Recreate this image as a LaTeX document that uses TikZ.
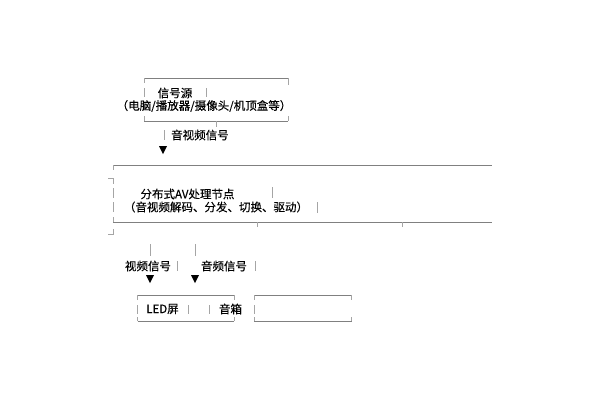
\documentclass[tikz,border=0pt]{standalone}
\usepackage{fontspec}
\setmainfont{Noto Sans CJK SC}[UprightFeatures={FakeBold=0.15}]
\definecolor{linecol}{RGB}{128,128,128}
\definecolor{tickcol}{RGB}{165,165,165}
\begin{document}
\begin{tikzpicture}[x=1pt,y=-1pt,
  edge/.style={draw=linecol,line width=0.9pt},
  tick/.style={draw=tickcol,line width=0.9pt},
  lbl/.style={inner sep=0pt,font=\fontsize{11.5pt}{13pt}\selectfont,text=black},
  tri/.style={fill=black}]
\useasboundingbox[fill=white] (0,0) rectangle (600,400);
% ---- top box: source
\draw[edge] (144,78) -- (288,78);
\draw[tick] (144,78) -- (144,83);
\draw[tick] (288,78) -- (288,85);
\draw[tick] (144,88) -- (144,97);
\draw[tick] (206.5,88) -- (206.5,97);
\draw[edge] (144,121) -- (288,121);
\draw[tick] (144,116) -- (144,121);
\draw[tick] (288,116) -- (288,121);
\draw[tick] (216,121) -- (216,127);
\node[lbl] (src1) at (175,93) {信号源};
\node[lbl] (src2) at (204,106) {（电脑/播放器/摄像头/机顶盒等）};
% arrow 1
\draw[tick] (164,130) -- (164,140);
\node[lbl,anchor=west] (sig1) at (171,135) {音视频信号};
\fill[tri] (159,146) -- (167,146) -- (163,154) -- cycle;
% ---- middle box: AV node
\draw[edge] (113,165) -- (492,165);
\draw[tick] (113,165) -- (113,170);
\draw[tick] (108,178) -- (113,178) -- (113,184);
\draw[tick] (113,188) -- (113,198);
\draw[tick] (113,202) -- (113,212);
\draw[tick] (272.5,187) -- (272.5,198);
\draw[tick] (317.5,202) -- (317.5,213);
\draw[edge] (113,222) -- (492,222);
\draw[tick] (113,217) -- (113,222);
\draw[tick] (113,229) -- (113,234) -- (108,234);
\draw[tick] (257.5,222) -- (257.5,227);
\draw[tick] (402.5,222) -- (402.5,227);
\node[lbl] (av1) at (187.5,194) {分布式AV处理节点};
\node[lbl] (av2) at (216,207) {（音视频解码、分发、切换、驱动）};
% ---- split arrows
\draw[tick] (150,244) -- (150,256);
\draw[tick] (195,244) -- (195,256);
\draw[tick] (177,261) -- (177,271);
\draw[tick] (255.5,261) -- (255.5,271);
\node[lbl] (vsig) at (148,266) {视频信号};
\node[lbl] (asig) at (224,266) {音频信号};
\fill[tri] (146,275) -- (154,275) -- (150,283) -- cycle;
\fill[tri] (191,275) -- (199,275) -- (195,283) -- cycle;
% ---- bottom box 1
\draw[edge] (137.5,295) -- (234,295);
\draw[tick] (137.5,295) -- (137.5,300);
\draw[tick] (234,295) -- (234,300);
\draw[tick] (137.5,305) -- (137.5,314);
\draw[tick] (188.3,305) -- (188.3,314);
\draw[tick] (209.3,305) -- (209.3,314);
\draw[edge] (137.5,321) -- (234,321);
\draw[tick] (137.5,317) -- (137.5,321);
\draw[tick] (234,317) -- (234,321);
\node[lbl] (led) at (162.5,309) {LED屏};
\node[lbl] (spk) at (230.5,309) {音箱};
% ---- bottom box 2
\draw[edge] (254,295) -- (351.5,295);
\draw[tick] (254,295) -- (254,300);
\draw[tick] (351.5,295) -- (351.5,300);
\draw[tick] (254,305) -- (254,314);
\draw[edge] (254,321) -- (351.5,321);
\draw[tick] (254,317) -- (254,321);
\draw[tick] (351.5,317) -- (351.5,321);
\end{tikzpicture}
\end{document}
